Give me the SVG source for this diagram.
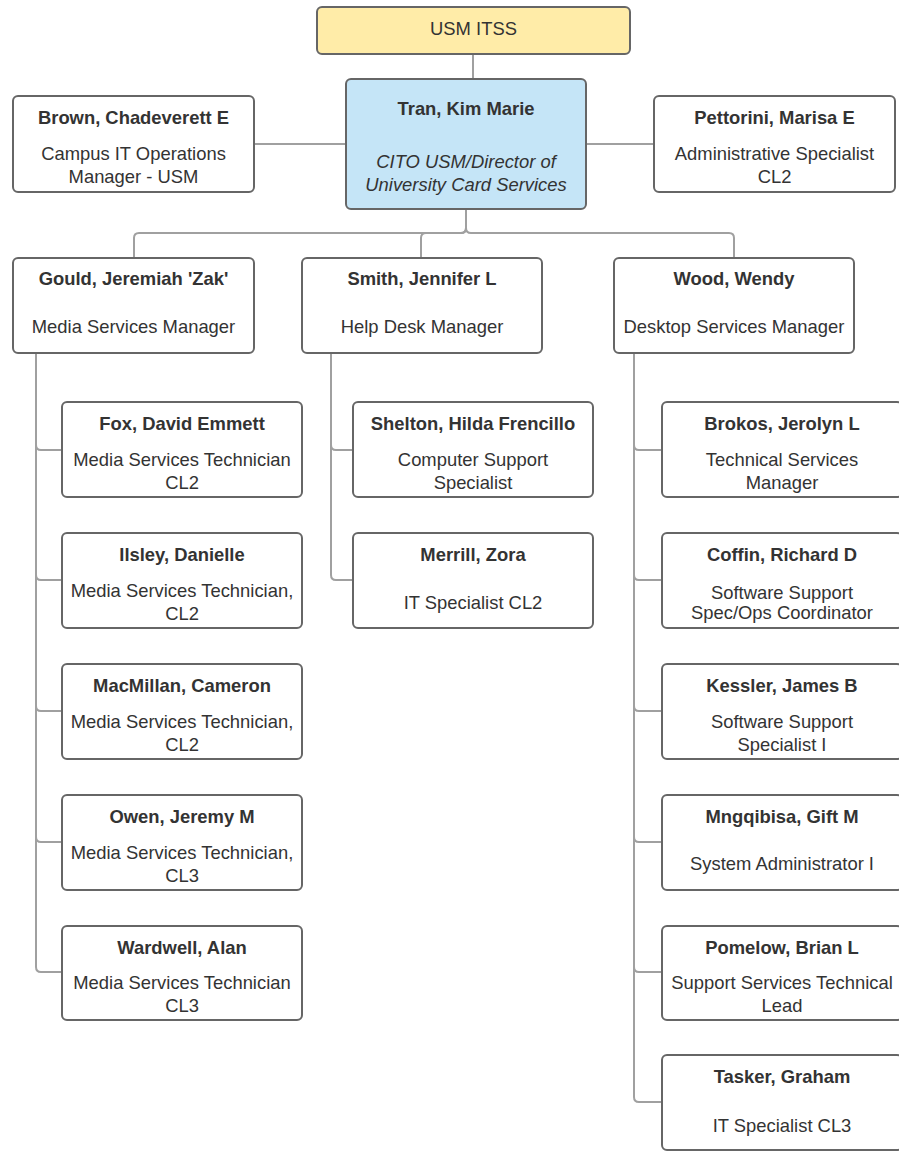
<svg xmlns="http://www.w3.org/2000/svg" width="899" height="1156" viewBox="0 0 899 1156">
<style>
.box{fill:#ffffff;stroke:#666666;stroke-width:2}
.root{fill:#ffeca8;stroke:#666666;stroke-width:2}
.head{fill:#c5e5f7;stroke:#666666;stroke-width:2}
.c{fill:none;stroke:#a0a0a0;stroke-width:2}
text{font-family:"Liberation Sans",Arial,sans-serif;font-size:18.4px;fill:#333333;text-anchor:middle}
.n{font-weight:bold}
.i{font-style:italic}
</style>
<rect width="899" height="1156" fill="#ffffff"/>
<g id="connectors">
<path class="c" d="M473 54 V79"/>
<path class="c" d="M254 144 H346"/>
<path class="c" d="M586 144 H654"/>
<path class="c" d="M466 209 V228 Q466 233 461 233 H139 Q134 233 134 238 V258"/>
<path class="c" d="M466 209 V228 Q466 233 461 233 H426 Q421 233 421 238 V258"/>
<path class="c" d="M466 209 V228 Q466 233 471 233 H729 Q734 233 734 238 V258"/>
<path class="c" d="M36 353 V445 Q36 450 41 450 H62"/>
<path class="c" d="M36 353 V575 Q36 580 41 580 H62"/>
<path class="c" d="M36 353 V706 Q36 711 41 711 H62"/>
<path class="c" d="M36 353 V837 Q36 842 41 842 H62"/>
<path class="c" d="M36 353 V967 Q36 972 41 972 H62"/>
<path class="c" d="M331 353 V445 Q331 450 336 450 H353"/>
<path class="c" d="M331 353 V575 Q331 580 336 580 H353"/>
<path class="c" d="M634 353 V445 Q634 450 639 450 H662"/>
<path class="c" d="M634 353 V575 Q634 580 639 580 H662"/>
<path class="c" d="M634 353 V706 Q634 711 639 711 H662"/>
<path class="c" d="M634 353 V837 Q634 842 639 842 H662"/>
<path class="c" d="M634 353 V967 Q634 972 639 972 H662"/>
<path class="c" d="M634 353 V1097 Q634 1102 639 1102 H662"/>
</g>
<g id="usm-itss"><rect class="root" x="317" y="7" width="313" height="47" rx="5"/><text x="473.5" y="35">USM ITSS</text></g>
<g id="tran"><rect class="head" x="346" y="79" width="240" height="130" rx="5"/><text class="n" x="466" y="115">Tran, Kim Marie</text><text class="i" x="466" y="168">CITO USM/Director of</text><text class="i" x="466" y="191">University Card Services</text></g>
<g id="brown"><rect class="box" x="13" y="96" width="241" height="96" rx="5"/><text class="n" x="133.5" y="124">Brown, Chadeverett E</text><text x="133.5" y="160">Campus IT Operations</text><text x="133.5" y="183">Manager - USM</text></g>
<g id="pettorini"><rect class="box" x="654" y="96" width="241" height="96" rx="5"/><text class="n" x="774.5" y="124">Pettorini, Marisa E</text><text x="774.5" y="160">Administrative Specialist</text><text x="774.5" y="183">CL2</text></g>
<g id="gould"><rect class="box" x="13" y="258" width="241" height="95" rx="5"/><text class="n" x="133.5" y="285">Gould, Jeremiah 'Zak'</text><text x="133.5" y="333">Media Services Manager</text></g>
<g id="smith"><rect class="box" x="302" y="258" width="240" height="95" rx="5"/><text class="n" x="422" y="285">Smith, Jennifer L</text><text x="422" y="333">Help Desk Manager</text></g>
<g id="wood"><rect class="box" x="614" y="258" width="240" height="95" rx="5"/><text class="n" x="734" y="285">Wood, Wendy</text><text x="734" y="333">Desktop Services Manager</text></g>
<g id="fox"><rect class="box" x="62" y="402" width="240" height="95" rx="5"/><text class="n" x="182" y="430">Fox, David Emmett</text><text x="182" y="466">Media Services Technician</text><text x="182" y="489">CL2</text></g>
<g id="ilsley"><rect class="box" x="62" y="533" width="240" height="95" rx="5"/><text class="n" x="182" y="561">Ilsley, Danielle</text><text x="182" y="597">Media Services Technician,</text><text x="182" y="620">CL2</text></g>
<g id="macmillan"><rect class="box" x="62" y="664" width="240" height="95" rx="5"/><text class="n" x="182" y="692">MacMillan, Cameron</text><text x="182" y="728">Media Services Technician,</text><text x="182" y="751">CL2</text></g>
<g id="owen"><rect class="box" x="62" y="795" width="240" height="95" rx="5"/><text class="n" x="182" y="823">Owen, Jeremy M</text><text x="182" y="859">Media Services Technician,</text><text x="182" y="882">CL3</text></g>
<g id="wardwell"><rect class="box" x="62" y="926" width="240" height="94" rx="5"/><text class="n" x="182" y="954">Wardwell, Alan</text><text x="182" y="989">Media Services Technician</text><text x="182" y="1012">CL3</text></g>
<g id="shelton"><rect class="box" x="353" y="402" width="240" height="95" rx="5"/><text class="n" x="473" y="430">Shelton, Hilda Frencillo</text><text x="473" y="466">Computer Support</text><text x="473" y="489">Specialist</text></g>
<g id="merrill"><rect class="box" x="353" y="533" width="240" height="95" rx="5"/><text class="n" x="473" y="561">Merrill, Zora</text><text x="473" y="609">IT Specialist CL2</text></g>
<g id="brokos"><rect class="box" x="662" y="402" width="240" height="95" rx="5"/><text class="n" x="782" y="430">Brokos, Jerolyn L</text><text x="782" y="466">Technical Services</text><text x="782" y="489">Manager</text></g>
<g id="coffin"><rect class="box" x="662" y="533" width="240" height="95" rx="5"/><text class="n" x="782" y="561">Coffin, Richard D</text><text x="782" y="599">Software Support</text><text x="782" y="619">Spec/Ops Coordinator</text></g>
<g id="kessler"><rect class="box" x="662" y="664" width="240" height="95" rx="5"/><text class="n" x="782" y="692">Kessler, James B</text><text x="782" y="728">Software Support</text><text x="782" y="751">Specialist I</text></g>
<g id="mngqibisa"><rect class="box" x="662" y="795" width="240" height="95" rx="5"/><text class="n" x="782" y="823">Mngqibisa, Gift M</text><text x="782" y="870">System Administrator I</text></g>
<g id="pomelow"><rect class="box" x="662" y="926" width="240" height="94" rx="5"/><text class="n" x="782" y="954">Pomelow, Brian L</text><text x="782" y="989">Support Services Technical</text><text x="782" y="1012">Lead</text></g>
<g id="tasker"><rect class="box" x="662" y="1055" width="240" height="95" rx="5"/><text class="n" x="782" y="1083">Tasker, Graham</text><text x="782" y="1132">IT Specialist CL3</text></g>
</svg>
